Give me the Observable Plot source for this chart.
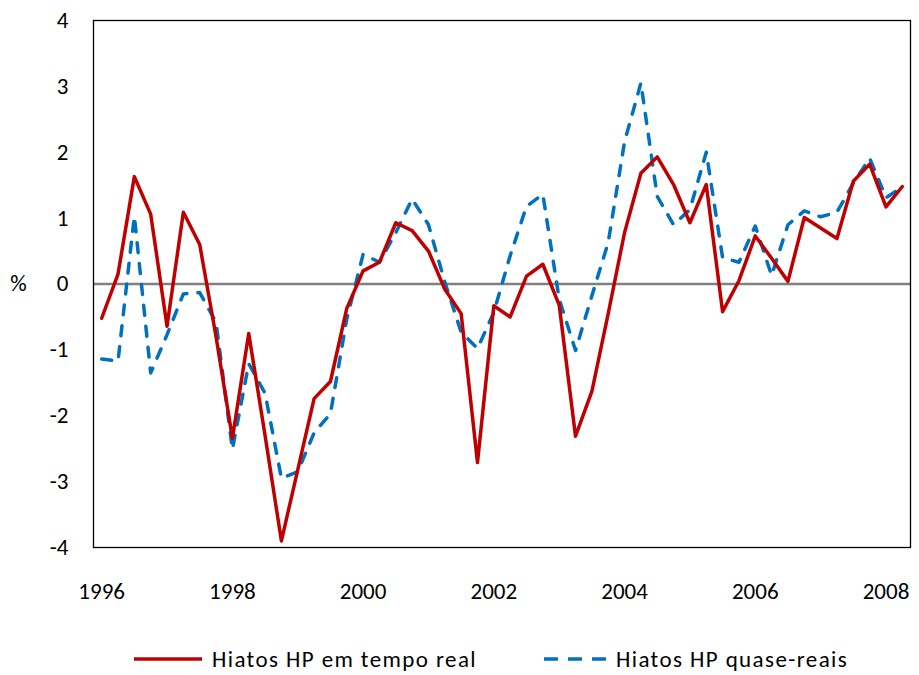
<!DOCTYPE html>
<html>
<head>
<meta charset="utf-8">
<script src="https://cdn.jsdelivr.net/npm/d3@7"></script>
<script src="https://cdn.jsdelivr.net/npm/@observablehq/plot@0.6"></script>
<style>
  html, body { margin: 0; padding: 0; background: #fff; }
  body { width: 919px; height: 675px; overflow: hidden; font-family: Carlito, Lato, sans-serif; }
  #legend { display: flex; align-items: center; justify-content: flex-start; padding-left: 133px; height: 26px; margin-top: 26px; font-size: 23px; letter-spacing: 1.4px; color: #000; }
  #legend .item { display: flex; align-items: center; }
  #legend svg { display: block; margin-right: 9px; }
</style>
</head>
<body>
<div id="chart"></div>
<div id="legend"></div>
<script>
// Quarterly output gaps, 1996Q1 .. 2008Q2 (%)
const startYear = 1996;
const seriesNames = ["Hiatos HP em tempo real", "Hiatos HP quase-reais"];
const realTime = [
  -0.52, 0.15, 1.63, 1.06, -0.64, 1.09, 0.60, -0.80,
  -2.34, -0.75, -2.30, -3.90, -2.82, -1.74, -1.48, -0.37,
  0.20, 0.33, 0.93, 0.81, 0.50, -0.08, -0.45, -2.71,
  -0.33, -0.50, 0.12, 0.30, -0.32, -2.31, -1.63, -0.45,
  0.78, 1.68, 1.93, 1.51, 0.93, 1.51, -0.42, 0.05,
  0.73, 0.39, 0.04, 1.01, 0.85, 0.69, 1.56, 1.82,
  1.17, 1.48
];
const quasiReal = [
  -1.14, -1.17, 1.03, -1.35, -0.77, -0.15, -0.13, -0.58,
  -2.51, -1.21, -1.66, -2.95, -2.85, -2.26, -1.97, -0.53,
  0.45, 0.33, 0.78, 1.29, 0.90, 0.03, -0.73, -0.98,
  -0.43, 0.43, 1.18, 1.36, -0.23, -1.01, -0.18, 0.63,
  2.16, 3.05, 1.33, 0.90, 1.13, 2.00, 0.40, 0.33,
  0.88, 0.13, 0.90, 1.11, 1.02, 1.09, 1.53, 1.91,
  1.31, 1.47
];
const xTicks = [1996, 1998, 2000, 2002, 2004, 2006, 2008];
const yTicks = [-4, -3, -2, -1, 0, 1, 2, 3, 4];
const colors = ["#C00000", "#0070C0"];

const rows = realTime.map((v, i) => ({t: startYear + i / 4, real: v, quase: quasiReal[i]}));

const chart = Plot.plot({
  width: 919,
  height: 620,
  marginTop: 20,
  marginBottom: 73,
  marginLeft: 93,
  marginRight: 9,
  style: {fontFamily: "Carlito, Lato, sans-serif", fontSize: "23px", color: "#000", background: "#fff", overflow: "visible"},
  x: {domain: [startYear - 0.125, startYear + (realTime.length - 0.5) / 4], ticks: xTicks, tickFormat: d => String(d)},
  y: {domain: [-4, 4], ticks: yTicks, tickFormat: d => String(d)},
  marks: [
    Plot.ruleY([0], {stroke: "#808080", strokeWidth: 2.5}),
    Plot.line(rows, {x: "t", y: "quase", stroke: colors[1], strokeWidth: 3.5, strokeDasharray: "10,11", strokeLinecap: "round"}),
    Plot.line(rows, {x: "t", y: "real", stroke: colors[0], strokeWidth: 3.5}),
    Plot.frame({stroke: "#000", strokeWidth: 1.3}),
    Plot.axisX({ticks: xTicks, tickSize: 0, tickPadding: 35, tickFormat: d => String(d), label: null, fontSize: 23}),
    Plot.axisY({ticks: yTicks, tickSize: 0, tickPadding: 25, tickFormat: d => String(d), label: null, fontSize: 23}),
    Plot.text([0], {y: d => d, frameAnchor: "left", text: () => "%", dx: -75, textAnchor: "middle", fontSize: 23})
  ]
});
document.getElementById("chart").appendChild(chart);

const legend = document.getElementById("legend");
seriesNames.forEach((name, k) => {
  const item = document.createElement("div");
  item.className = "item";
  if (k > 0) item.style.marginLeft = "66px";
  const dash = k === 1 ? ' stroke-dasharray="14,10"' : '';
  const w = k === 1 ? 64 : 70;
  item.innerHTML = `<svg width="${w}" height="10"><line x1="1" y1="5" x2="${w - 1}" y2="5" stroke="${colors[k]}" stroke-width="3.5"${dash}/></svg><span>${name}</span>`;
  legend.appendChild(item);
});
</script>
</body>
</html>
